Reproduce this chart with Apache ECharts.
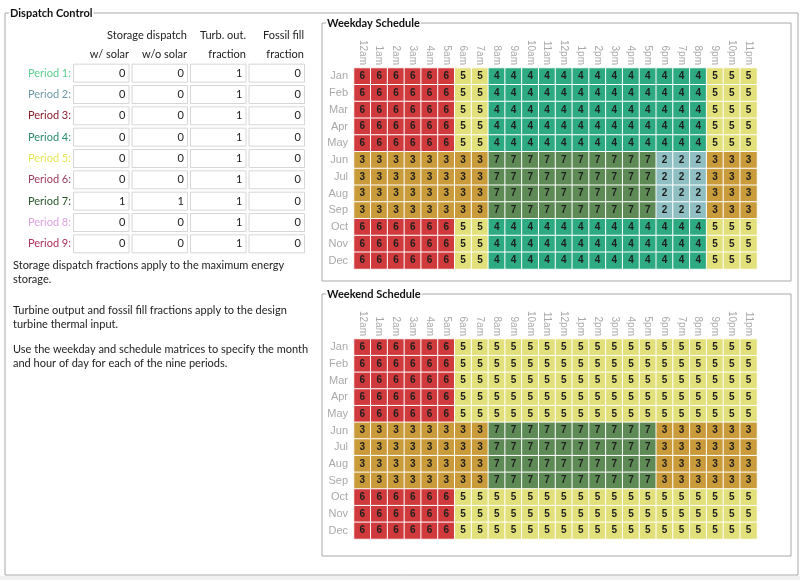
<!DOCTYPE html>
<html>
<head>
<meta charset="utf-8">
<script src="https://cdn.jsdelivr.net/npm/echarts@6/dist/echarts.min.js"></script>
<style>
html,body{margin:0;padding:0;background:#fff;}
#chart{width:800px;height:580px;}
</style>
</head>
<body>
<div id="chart"></div>
<script>
// ---------- data ----------
const hours = ['12am','1am','2am','3am','4am','5am','6am','7am','8am','9am','10am','11am','12pm','1pm','2pm','3pm','4pm','5pm','6pm','7pm','8pm','9pm','10pm','11pm'];
const months = ['Jan','Feb','Mar','Apr','May','Jun','Jul','Aug','Sep','Oct','Nov','Dec'];

const wdWinter = [6,6,6,6,6,6,5,5,4,4,4,4,4,4,4,4,4,4,4,4,4,5,5,5];
const wdSummer = [3,3,3,3,3,3,3,3,7,7,7,7,7,7,7,7,7,7,2,2,2,3,3,3];
const weWinter = [6,6,6,6,6,6,5,5,5,5,5,5,5,5,5,5,5,5,5,5,5,5,5,5];
const weSummer = [3,3,3,3,3,3,3,3,7,7,7,7,7,7,7,7,7,7,3,3,3,3,3,3];

const weekdaySchedule = [wdWinter,wdWinter,wdWinter,wdWinter,wdWinter,wdSummer,wdSummer,wdSummer,wdSummer,wdWinter,wdWinter,wdWinter];
const weekendSchedule = [weWinter,weWinter,weWinter,weWinter,weWinter,weSummer,weSummer,weSummer,weSummer,weWinter,weWinter,weWinter];

const periods = ['Period 1:','Period 2:','Period 3:','Period 4:','Period 5:','Period 6:','Period 7:','Period 8:','Period 9:'];
const periodColors = ['#5ccf90','#6d9aa6','#8a1d2c','#2e8a68','#e6e65a','#9a3d5c','#2b5a2e','#e0a2e0','#b02f5c'];
const tableColumns = ['w/ solar','w/o solar','Turb. out. fraction','Fossil fill fraction'];
const storageWithSolar    = [0,0,0,0,0,0,1,0,0];
const storageWithoutSolar = [0,0,0,0,0,0,1,0,0];
const turbineFraction     = [1,1,1,1,1,1,1,1,1];
const fossilFill          = [0,0,0,0,0,0,0,0,0];

const periodCellColors = {2:'#8fbfc3',3:'#c99b3a',4:'#2daa82',5:'#e2e07a',6:'#d03a3c',7:'#5e8a55'};

const notes = [
  'Storage dispatch fractions apply to the maximum energy',
  'storage.',
  '',
  'Turbine output and fossil fill fractions apply to the design',
  'turbine thermal input.',
  '',
  'Use the weekday and schedule matrices to specify the month',
  'and hour of day for each of the nine periods.'
];

// ---------- build ----------
function toHeat(mat){
  const out = [];
  mat.forEach((row, m) => row.forEach((v, h) => out.push([h, m, v])));
  return out;
}
const tableData = [];
[storageWithSolar, storageWithoutSolar, turbineFraction, fossilFill].forEach((col, c) => {
  col.forEach((v, r) => tableData.push([c, r, v]));
});

const FONT = 'Liberation Sans';
const UI = 'Lato';
const UIF = '11px ' + UI;
const chart = echarts.init(document.getElementById('chart'), null, {renderer:'canvas'});

const heatXAxis = (gi) => ({
  type:'category', data:hours, gridIndex:gi, position:'top',
  axisLine:{show:false}, axisTick:{show:false}, splitLine:{show:false},
  axisLabel:{rotate:90, color:'#a9a9a9', fontSize:10, fontFamily:FONT, margin:3, interval:0}
});
const heatYAxis = (gi) => ({
  type:'category', data:months, gridIndex:gi, inverse:true,
  axisLine:{show:false}, axisTick:{show:false}, splitLine:{show:false},
  axisLabel:{color:'#a9a9a9', fontSize:11, fontFamily:FONT, margin:6, interval:0}
});
const heatSeries = (gi, mat) => ({
  type:'heatmap', xAxisIndex:gi, yAxisIndex:gi, data:toHeat(mat),
  itemStyle:{borderColor:'#ffffff', borderWidth:1},
  label:{show:true, color:'#1e1e1e', fontSize:10, fontWeight:'bold', fontFamily:FONT},
  emphasis:{disabled:true}
});

const noteTexts = notes.map((t, i) => ({
  type:'text', left:13, top:260 + [0,13.5,0,45,58.5,0,84,97.5][i],
  style:{text:t, font:UIF, fill:'#222'}
})).filter(g => g.style.text);

function groupBox(x, y, w, h, title){
  return [
    {type:'rect', shape:{x:x, y:y, width:w, height:h}, style:{fill:'none', stroke:'#a8a8a8', lineWidth:1}},
    {type:'text', x:x+4, y:y, style:{text:title, font:'bold 11px ' + UI, fill:'#111', backgroundColor:'#fff', padding:[0,1], verticalAlign:'middle'}}
  ];
}

const headers = [
  ['Storage dispatch', 187, 35], ['Turb. out.', 246, 35], ['Fossil fill', 304, 35],
  ['w/ solar', 129, 54], ['w/o solar', 187, 54], ['fraction', 246, 54], ['fraction', 304, 54]
].map(h => ({type:'text', x:h[1], y:h[2], style:{text:h[0], font:UIF, fill:'#222', align:'right', verticalAlign:'middle'}}));

const option = {
  animation:false,
  backgroundColor:'#ffffff',
  grid:[
    {left:354, top:68, width:403, height:201},
    {left:354, top:339, width:403, height:200},
    {left:72, top:62.5, width:234, height:192}
  ],
  xAxis:[
    heatXAxis(0), heatXAxis(1),
    {type:'category', data:tableColumns, gridIndex:2, show:false}
  ],
  yAxis:[
    heatYAxis(0), heatYAxis(1),
    {type:'category', data:periods, gridIndex:2, inverse:true,
     axisLine:{show:false}, axisTick:{show:false}, splitLine:{show:false},
     axisLabel:{margin:1, fontSize:11, fontFamily:UI, interval:0,
       formatter:(v, i) => '{p' + i + '|' + v + '}',
       rich:Object.fromEntries(periodColors.map((c, i) => ['p' + i, {color:c, fontSize:11, fontFamily:UI}]))}}
  ],
  visualMap:{
    type:'piecewise', show:false, seriesIndex:[0,1], dimension:2,
    pieces:Object.keys(periodCellColors).map(k => ({value:+k, color:periodCellColors[k]}))
  },
  series:[
    heatSeries(0, weekdaySchedule),
    heatSeries(1, weekendSchedule),
    {
      type:'custom', xAxisIndex:2, yAxisIndex:2, data:tableData,
      renderItem:(params, api) => {
        const c = api.coord([api.value(0), api.value(1)]);
        const s = api.size([1, 1]);
        return {type:'group', children:[
          {type:'rect', shape:{x:c[0]-s[0]/2+1.5, y:c[1]-9, width:s[0]-3, height:18},
           style:{fill:'#fff', stroke:'#d6d6d6', lineWidth:1}},
          {type:'text', style:{text:String(api.value(2)), x:c[0]+s[0]/2-5, y:c[1],
           align:'right', verticalAlign:'middle', font:UIF, fill:'#222'}}
        ]};
      }
    }
  ],
  graphic:[
    {type:'rect', shape:{x:0, y:576, width:800, height:4}, style:{fill:'#f0f0f0'}},
    ...groupBox(5, 13, 793, 562, 'Dispatch Control'),
    ...groupBox(322, 23, 469, 258, 'Weekday Schedule'),
    ...groupBox(322, 294, 469, 262, 'Weekend Schedule'),
    ...headers,
    ...noteTexts
  ]
};
chart.setOption(option);
</script>
</body>
</html>
